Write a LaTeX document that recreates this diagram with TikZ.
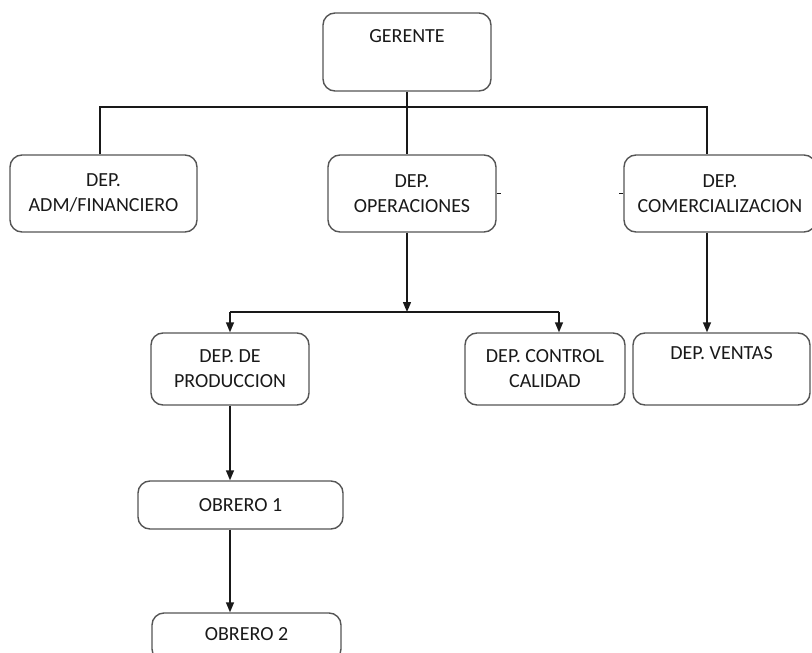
\documentclass[tikz,border=0pt]{standalone}
\usepackage{fontspec}
\setmainfont{Carlito}
\usepackage{xcolor}
\usepackage{tikz}
\usetikzlibrary{arrows.meta}

\definecolor{boxgray}{RGB}{85,85,85}

\begin{document}
\begin{tikzpicture}[x=1pt,y=-1pt,
    puesto/.style={draw=boxgray,line width=1.4pt,rounded corners=12pt,inner sep=0pt,
        align=center,font=\fontsize{20}{25}\selectfont,text=black!90},
    linea/.style={line width=1.4pt,black!90},
    flecha/.style={linea,-{Triangle[length=10pt,width=8pt]}}]
                    \useasboundingbox (0,0) rectangle (812,653);
                    \clip (0,0) rectangle (812,653);

                    \node[puesto,minimum width=168pt,minimum height=78pt] (gerente) at (407,52) {GERENTE\\ \strut};
                    \node[puesto,minimum width=187pt,minimum height=77pt] (adm) at (103.5,193.5) {DEP.\\ ADM/FINANCIERO};
                    \node[puesto,minimum width=168pt,minimum height=77pt] (oper) at (412,193.5) {DEP.\\ OPERACIONES};
                    \node[puesto,minimum width=192pt,minimum height=77pt] (comerc) at (720,193.5) {DEP.\\ COMERCIALIZACION};

                    \node[puesto,minimum width=158pt,minimum height=72pt] (prod) at (230,369) {DEP. DE\\ PRODUCCION};
                    \node[puesto,minimum width=160pt,minimum height=72pt] (calidad) at (545,369) {DEP. CONTROL\\ CALIDAD};
                    \node[puesto,minimum width=177pt,minimum height=72pt] (ventas) at (721.5,369) {DEP. VENTAS\\ \strut};

                    \node[puesto,minimum width=205pt,minimum height=48pt] (obrero1) at (240.5,505) {OBRERO 1};
                    \node[puesto,minimum width=189pt,minimum height=48pt] (obrero2) at (246.5,637) {\raisebox{6pt}{OBRERO 2}};

                    \coordinate (bus) at (407,107);
                    \coordinate (abus) at (100,107);
                    \coordinate (cbus) at (707,107);
                    \coordinate (split) at (407,312);
                    \coordinate (pbus) at (230,312);
                    \coordinate (qbus) at (559,312);

                    \draw[linea] (gerente.south) -- (bus);
                    \draw[linea] (abus |- adm.north) -- (abus) -- (cbus) -- (cbus |- comerc.north);
                    \draw[linea] (bus) -- (bus |- oper.north);

                    \draw[flecha] (split |- oper.south) -- (split);
                    \draw[linea] (pbus) -- (qbus);
                    \draw[flecha] (pbus) -- (pbus |- prod.north);
                    \draw[flecha] (qbus) -- (qbus |- calidad.north);
                    \draw[flecha] (cbus |- comerc.south) -- (cbus |- ventas.north);

                    \draw[flecha] (prod.south) -- (prod.south |- obrero1.north);
                    \draw[flecha] (prod.south |- obrero1.south) -- (prod.south |- obrero2.north);

                    \draw[linea] (oper.east) -- ++(4,0);
                    \draw[linea] (comerc.west) -- ++(-4,0);
                \end{tikzpicture}
\end{document}
